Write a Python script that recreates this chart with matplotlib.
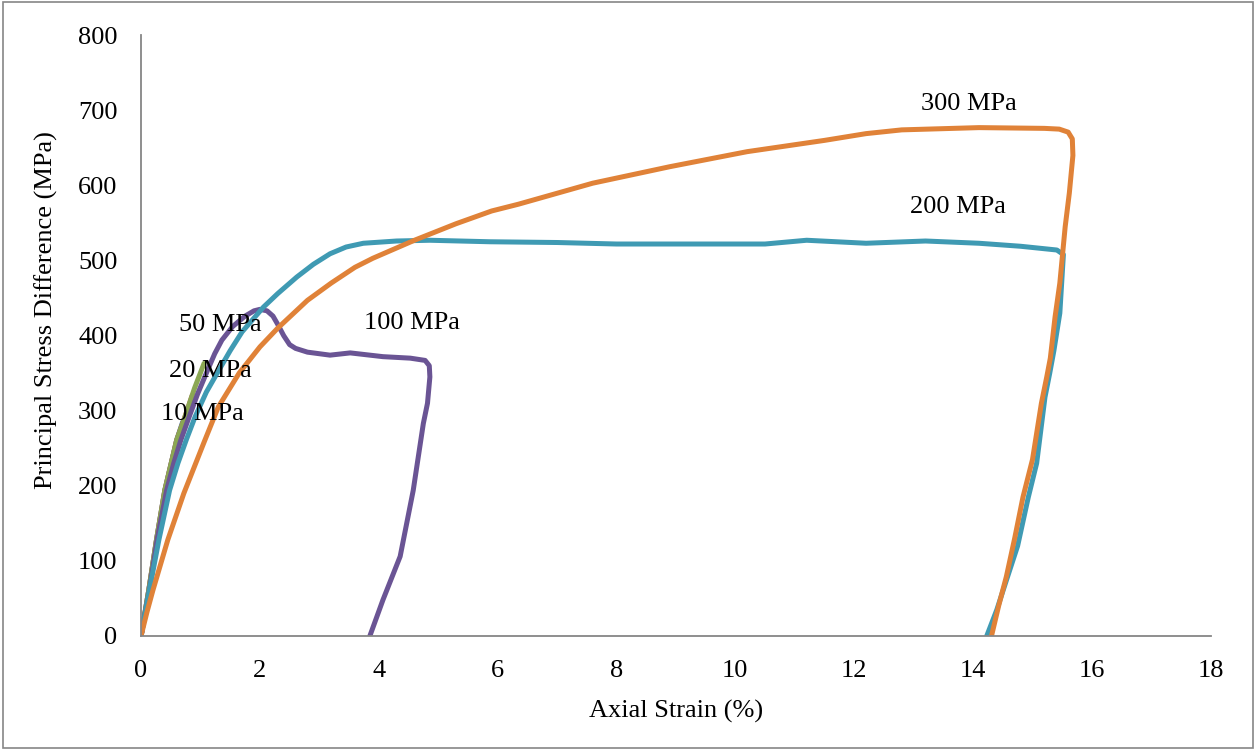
import matplotlib.pyplot as plt
from matplotlib.patches import Rectangle

# axial strain (%) and principal stress difference (MPa) for each confining pressure
strain_10 = [0, 0.13, 0.26, 0.40, 0.60, 0.70]
stress_10 = [0, 61, 128, 194, 261, 285]

strain_20 = [0, 0.13, 0.26, 0.40, 0.60, 0.74, 0.86]
stress_20 = [0, 61, 128, 194, 261, 292, 320]

strain_50 = [0, 0.13, 0.26, 0.40, 0.60, 0.74, 0.90, 1.06]
stress_50 = [0, 61, 128, 194, 261, 292, 330, 363]

strain_100 = [0, 0.14, 0.27, 0.43, 0.55, 0.67, 0.81, 0.95, 1.12, 1.24, 1.36, 1.54, 1.75,
              1.90, 2.00, 2.12, 2.22, 2.30, 2.40, 2.50, 2.60, 2.80, 3.18, 3.52, 4.07,
              4.53, 4.78, 4.85, 4.86, 4.82, 4.75, 4.58, 4.36, 4.07, 3.85]
stress_100 = [0, 61, 128, 194, 230, 261, 292, 322, 354, 376, 394, 412, 426,
              433, 435, 433, 426, 415, 400, 388, 383, 378, 374, 377, 372,
              370, 367, 360, 345, 310, 283, 194, 106, 48, 0]

strain_200 = [0, 0.14, 0.30, 0.48, 0.62, 0.76, 0.91, 1.10, 1.31, 1.50, 1.70, 2.06, 2.30,
              2.62, 2.90, 3.18, 3.45, 3.74, 4.30, 4.86, 5.87, 7.0, 8.0, 9.0, 10.5, 11.2,
              12.2, 13.2, 14.1, 14.8, 15.41, 15.52, 15.46, 15.36, 15.29, 15.21, 15.07,
              14.93, 14.75, 14.56, 14.40, 14.23]
stress_200 = [0, 61, 128, 194, 230, 261, 292, 325, 354, 380, 405, 438, 456,
              478, 495, 509, 518, 523, 526, 527, 525, 524, 522, 522, 522, 527,
              523, 526, 523, 519, 514, 508, 430, 380, 350, 318, 230,
              185, 120, 74, 35, 0]

strain_300 = [0, 0.10, 0.20, 0.45, 0.72, 1.06, 1.30, 1.65, 2.0, 2.3, 2.8, 3.2, 3.6, 3.9,
              4.6, 5.3, 5.9, 6.35, 7.6, 8.9, 10.2, 11.5, 12.2, 12.8, 14.1, 15.2, 15.45,
              15.6, 15.67, 15.68, 15.62, 15.55, 15.46, 15.38, 15.30, 15.24, 15.15, 15.0,
              14.84, 14.7, 14.56, 14.43, 14.31]
stress_300 = [0, 32, 61, 128, 190, 258, 305, 350, 385, 410, 447, 470, 491, 503,
              527, 549, 566, 575, 603, 625, 645, 660, 669, 674, 677, 676, 675,
              671, 662, 640, 590, 545, 470, 425, 370, 345, 310, 235,
              185, 130, 79, 40, 0]

series = [
    (strain_10, stress_10, "#4F81BD"),
    (strain_20, stress_20, "#C0504D"),
    (strain_50, stress_50, "#8BA753"),
    (strain_100, stress_100, "#6A5494"),
    (strain_200, stress_200, "#3F9AB3"),
    (strain_300, stress_300, "#E08238"),
]

# label text and where it sits (strain, stress)
labels = ["10 MPa", "20 MPa", "50 MPa", "100 MPa", "200 MPa", "300 MPa"]
label_x = [1.04, 1.16, 1.33, 4.56, 13.75, 13.93]
label_y = [296, 353, 414, 417, 571, 709]

plt.rcParams['font.family'] = ['Liberation Serif', 'DejaVu Serif']

fig = plt.figure(figsize=(12.56, 7.5), dpi=100)
ax = fig.add_axes([0.1123, 0.152, 0.8517, 0.801])

for xs, ys, c in series:
    ax.plot(xs, ys, color=c, linewidth=3.6, solid_capstyle='round', solid_joinstyle='round')

for t, x, y in zip(labels, label_x, label_y):
    ax.text(x, y, t, fontsize=19, ha='center', va='center')

ax.set_xlim(0, 18)
ax.set_ylim(0, 800)
ax.set_xticks(range(0, 19, 2))
ax.set_yticks(range(0, 801, 100))
ax.tick_params(length=0, labelsize=19, pad=17)

for side in ['top', 'right']:
    ax.spines[side].set_visible(False)
for side in ['left', 'bottom']:
    ax.spines[side].set_color('#868686')
    ax.spines[side].set_linewidth(1.3)

ax.set_xlabel("Axial Strain (%)", fontsize=19, labelpad=13)
ax.set_ylabel("Principal Stress Difference (MPa)", fontsize=19)
ax.yaxis.set_label_coords(-0.0776, 0.542)

# thin grey frame around the whole chart area
fig.patches.append(Rectangle((0.002, 0.003), 0.996, 0.994, transform=fig.transFigure,
                             fill=False, edgecolor='#868686', linewidth=1.2))

fig.savefig('out.png', dpi=100)
